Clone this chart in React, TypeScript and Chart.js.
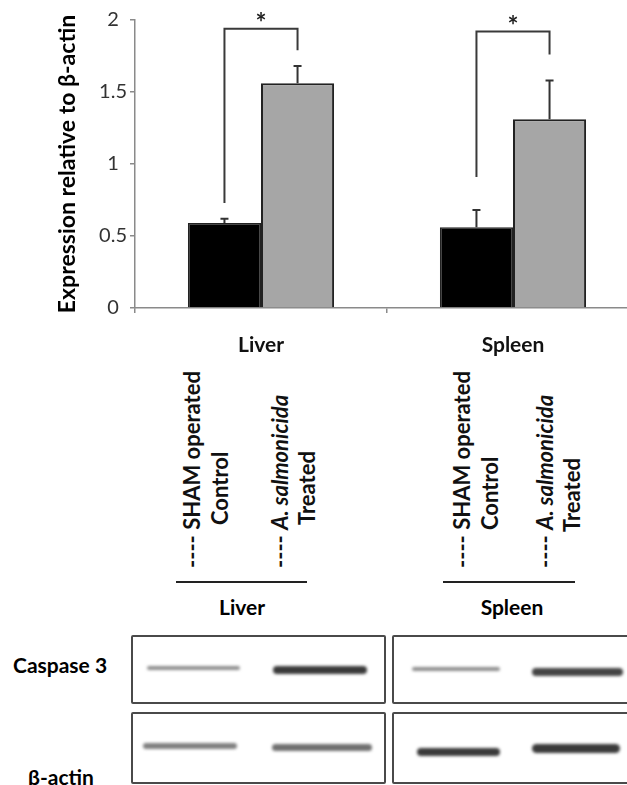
import React, { useEffect, useRef } from 'react';
import { Chart, registerables } from 'chart.js';

Chart.register(...registerables);

// ---- Data ----
const categories = ['Liver', 'Spleen'];
const controlValues = [0.59, 0.56];
const controlErrors = [0.03, 0.12];
const treatedValues = [1.56, 1.31];
const treatedErrors = [0.12, 0.27];
const yTicks = [0, 0.5, 1, 1.5, 2];
const bracketTop = [1.94, 1.92];
const bracketLeftEnd = [0.73, 0.91];
const bracketRightEnd = [1.79, 1.76];
const significance = ['*', '*'];

const FONT = 'Lato, "Open Sans", sans-serif';

const overlayPlugin = {
  id: 'overlay',
  afterDatasetsDraw(chart: any) {
    const ctx = chart.ctx;
    const y = chart.scales.y;
    const metaC = chart.getDatasetMeta(0);
    const metaT = chart.getDatasetMeta(1);
    const vals = [controlValues, treatedValues];
    const errs = [controlErrors, treatedErrors];
    ctx.save();
    ctx.strokeStyle = '#333';
    ctx.lineWidth = 2;
    [metaC, metaT].forEach((meta: any, d: number) => {
      meta.data.forEach((bar: any, i: number) => {
        const top = y.getPixelForValue(vals[d][i] + errs[d][i]);
        ctx.beginPath();
        ctx.moveTo(bar.x, bar.y);
        ctx.lineTo(bar.x, top);
        ctx.moveTo(bar.x - 4, top);
        ctx.lineTo(bar.x + 4, top);
        ctx.stroke();
      });
    });
    categories.forEach((_, i) => {
      const xl = metaC.data[i].x;
      const xr = metaT.data[i].x;
      const yt = y.getPixelForValue(bracketTop[i]);
      ctx.strokeStyle = '#3a3a3a';
      ctx.beginPath();
      ctx.moveTo(xl, y.getPixelForValue(bracketLeftEnd[i]));
      ctx.lineTo(xl, yt);
      ctx.lineTo(xr, yt);
      ctx.lineTo(xr, y.getPixelForValue(bracketRightEnd[i]));
      ctx.stroke();
      ctx.fillStyle = '#222';
      ctx.font = `bold 26px ${FONT}`;
      ctx.textAlign = 'center';
      ctx.textBaseline = 'alphabetic';
      ctx.fillText(significance[i], (xl + xr) / 2, yt + 3);
    });
    ctx.restore();
  },
};

const Rot = ({ x, yBottom, children, size = 22 }: any) => (
  <span
    style={{
      position: 'absolute',
      left: x - size / 2,
      top: yBottom,
      fontSize: size,
      lineHeight: `${size}px`,
      fontWeight: 700,
      whiteSpace: 'nowrap',
      transform: 'rotate(-90deg)',
      transformOrigin: '0 0',
      color: '#111',
    }}
  >
    {children}
  </span>
);

const bands = [
  { x1: 147, x2: 240, y: 668, h: 4, c: '#8e8e8e' },
  { x1: 273, x2: 367, y: 670, h: 8, c: '#3a3a3a' },
  { x1: 412, x2: 500, y: 669, h: 4, c: '#8e8e8e' },
  { x1: 532, x2: 623, y: 672, h: 8, c: '#444' },
  { x1: 143, x2: 237, y: 746, h: 6, c: '#808080' },
  { x1: 272, x2: 372, y: 747, h: 7, c: '#707070' },
  { x1: 417, x2: 500, y: 752, h: 8, c: '#3a3a3a' },
  { x1: 532, x2: 620, y: 748, h: 9, c: '#3a3a3a' },
];

const boxes = [
  { l: 131, t: 635, w: 255, h: 69 },
  { l: 392, t: 635, w: 260, h: 69 },
  { l: 131, t: 712, w: 255, h: 72 },
  { l: 392, t: 712, w: 260, h: 72 },
];

export default function App() {
  const ref = useRef<HTMLCanvasElement>(null);

  useEffect(() => {
    if (!ref.current) return;
    const chart = new Chart(ref.current, {
      type: 'bar',
      data: {
        labels: categories,
        datasets: [
          {
            label: 'SHAM operated Control',
            data: controlValues,
            backgroundColor: '#000',
            borderColor: '#222',
            borderWidth: 1.5,
            barPercentage: 1,
            categoryPercentage: 0.58,
          },
          {
            label: 'A. salmonicida Treated',
            data: treatedValues,
            backgroundColor: '#a6a6a6',
            borderColor: '#222',
            borderWidth: 2,
            barPercentage: 1,
            categoryPercentage: 0.58,
          },
        ],
      },
      options: {
        responsive: false,
        animation: false,
        layout: { padding: { top: 20, right: 1, left: 0, bottom: 0 } },
        plugins: { legend: { display: false }, tooltip: { enabled: false } },
        scales: {
          x: {
            grid: { display: true, drawOnChartArea: false, drawTicks: true, tickLength: 5, color: '#8a8a8a', lineWidth: 1.5 },
            border: { display: true, color: '#8a8a8a', width: 1.5 },
            ticks: { font: { family: FONT, size: 21, weight: 'bold' }, color: '#111', padding: 20 },
            afterFit: (s: any) => { s.height = 62; },
          },
          y: {
            min: yTicks[0],
            max: yTicks[yTicks.length - 1],
            ticks: {
              stepSize: 0.5,
              font: { family: FONT, size: 20 },
              color: '#333',
              padding: 3,
              crossAlign: 'center',
              callback: (v: any) => (yTicks.includes(Number(v)) ? String(v) : ''),
            },
            grid: { drawOnChartArea: false, tickLength: 5, color: '#8a8a8a', lineWidth: 1.5 },
            border: { color: '#8a8a8a', width: 1.5 },
            title: {
              display: true,
              text: 'Expression relative to β-actin',
              font: { family: FONT, size: 23, weight: 'bold' },
              color: '#000',
              padding: { top: 54, bottom: 0 },
            },
            afterFit: (s: any) => { s.width = 135; },
          },
        },
      },
      plugins: [overlayPlugin],
    } as any);
    return () => chart.destroy();
  }, []);

  return (
    <div
      style={{
        position: 'absolute',
        left: 0,
        top: 0,
        width: 627,
        height: 785,
        overflow: 'hidden',
        background: '#fff',
        fontFamily: FONT,
      }}
    >
      <canvas ref={ref} width={640} height={370} style={{ position: 'absolute', left: 0, top: 0, display: 'block' }} />

      {/* Liver lane labels */}
      <Rot x={192} yBottom={568}>---- SHAM operated</Rot>
      <Rot x={220} yBottom={525}>Control</Rot>
      <Rot x={280} yBottom={568}>---- <i>A. salmonicida</i></Rot>
      <Rot x={307} yBottom={525}>Treated</Rot>
      {/* Spleen lane labels */}
      <Rot x={462} yBottom={568}>---- SHAM operated</Rot>
      <Rot x={490} yBottom={530}>Control</Rot>
      <Rot x={545} yBottom={568}>---- <i>A. salmonicida</i></Rot>
      <Rot x={572} yBottom={532}>Treated</Rot>

      <div style={{ position: 'absolute', left: 176, top: 581, width: 131, height: 2, background: '#222' }} />
      <div style={{ position: 'absolute', left: 443, top: 581, width: 132, height: 2, background: '#222' }} />

      <div style={{ position: 'absolute', left: 192, width: 100, top: 594, textAlign: 'center', fontSize: 21, fontWeight: 700, lineHeight: '26px' }}>Liver</div>
      <div style={{ position: 'absolute', left: 462, width: 100, top: 594, textAlign: 'center', fontSize: 21, fontWeight: 700, lineHeight: '26px' }}>Spleen</div>

      <div style={{ position: 'absolute', left: 13, top: 652, fontSize: 21, fontWeight: 700, lineHeight: '26px' }}>Caspase 3</div>
      <div style={{ position: 'absolute', left: 28, top: 764, fontSize: 21, fontWeight: 700, lineHeight: '26px' }}>β-actin</div>

      {boxes.map((b, i) => (
        <div
          key={'b' + i}
          style={{
            position: 'absolute',
            left: b.l,
            top: b.t,
            width: b.w,
            height: b.h,
            boxSizing: 'border-box',
            border: '2px solid #4a4a4a',
            borderRadius: 2,
          }}
        />
      ))}
      {bands.map((b, i) => (
        <div
          key={'g' + i}
          style={{
            position: 'absolute',
            left: b.x1,
            top: b.y - b.h / 2,
            width: b.x2 - b.x1,
            height: b.h,
            background: b.c,
            borderRadius: b.h / 2,
            filter: 'blur(1.5px)',
          }}
        />
      ))}
    </div>
  );
}
